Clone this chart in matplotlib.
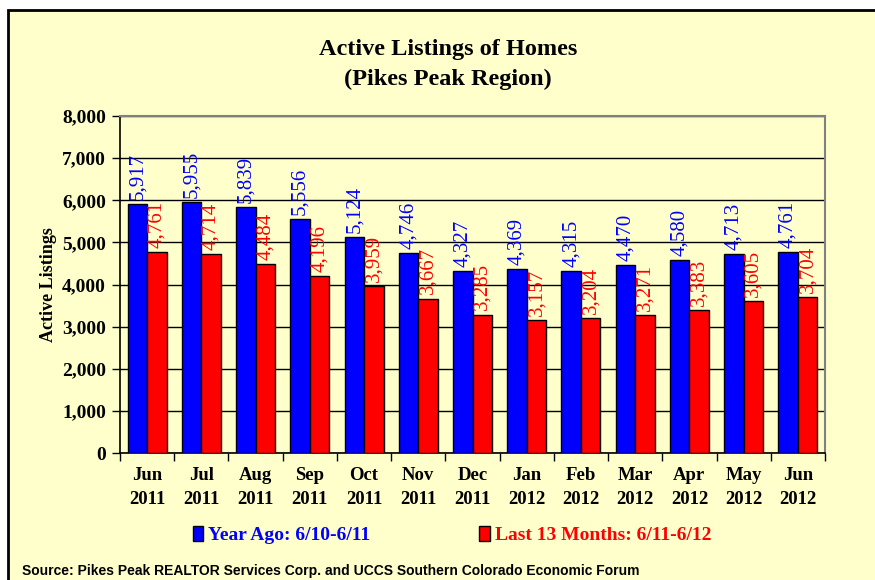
import matplotlib
matplotlib.use("Agg")
import matplotlib.pyplot as plt
import numpy as np
from matplotlib.patches import Rectangle
from matplotlib.ticker import FuncFormatter

months = ["Jun\n2011", "Jul\n2011", "Aug\n2011", "Sep\n2011", "Oct\n2011", "Nov\n2011",
          "Dec\n2011", "Jan\n2012", "Feb\n2012", "Mar\n2012", "Apr\n2012", "May\n2012", "Jun\n2012"]
year_ago = [5917, 5955, 5839, 5556, 5124, 4746, 4327, 4369, 4315, 4470, 4580, 4713, 4761]
last13 = [4761, 4714, 4484, 4196, 3959, 3667, 3285, 3157, 3204, 3271, 3383, 3605, 3704]
series_names = ["Year Ago: 6/10-6/11", "Last 13 Months: 6/11-6/12"]

serif = ["Liberation Serif", "DejaVu Serif"]
bg = "#FFFFCC"

fig = plt.figure(figsize=(8.75, 5.8), dpi=100)
fig.patch.set_facecolor("white")
# outer panel with black border
panel = Rectangle((8 / 875, -0.01), 1.0, 1 - 10 / 580 + 0.01, transform=fig.transFigure,
                  facecolor=bg, edgecolor="black", linewidth=2, zorder=-10)
fig.patches.append(panel)

ax = fig.add_axes([120 / 875, 1 - 453 / 580, (825 - 120) / 875, (453 - 116) / 580])
ax.set_facecolor(bg)

x = np.arange(len(months))
w = 0.36
b1 = ax.bar(x - w / 2, year_ago, w, color="#0000FF", edgecolor="black", linewidth=1, zorder=3,
            label=series_names[0])
b2 = ax.bar(x + w / 2, last13, w, color="#FF0000", edgecolor="black", linewidth=1, zorder=3,
            label=series_names[1])

for rect, v in zip(b1, year_ago):
    ax.annotate(f"{v:,}", (rect.get_x() + rect.get_width() / 2, v), xytext=(0, 3),
                textcoords="offset points", rotation=90, ha="center", va="bottom",
                color="#0000FF", fontsize=15, family=serif, zorder=4)
for rect, v in zip(b2, last13):
    ax.annotate(f"{v:,}", (rect.get_x() + rect.get_width() / 2, v), xytext=(0, 3),
                textcoords="offset points", rotation=90, ha="center", va="bottom",
                color="#FF0000", fontsize=15, family=serif, zorder=4)

ax.set_xlim(-0.5, len(months) - 0.5)
ax.set_ylim(0, 8000)
ax.set_yticks(np.arange(0, 8001, 1000))
ax.yaxis.set_major_formatter(FuncFormatter(lambda v, p: f"{int(v):,}"))
ax.grid(axis="y", color="black", linewidth=1, zorder=0)
ax.set_axisbelow(True)

ax.set_xticks(x)
ax.set_xticklabels(months)
ax.set_xticks(np.arange(-0.5, len(months), 1), minor=True)
ax.tick_params(axis="x", which="major", length=0, pad=10)
ax.tick_params(axis="x", which="minor", length=6, width=1, direction="out")
ax.tick_params(axis="y", length=6, width=1, direction="out", pad=4)
for lab in ax.get_xticklabels():
    lab.set_family(serif); lab.set_weight("bold"); lab.set_fontsize(13.5)
    lab.set_linespacing(1.55)
for lab in ax.get_yticklabels():
    lab.set_family(serif); lab.set_weight("bold"); lab.set_fontsize(14)

for s in ["left", "bottom"]:
    ax.spines[s].set_color("black"); ax.spines[s].set_linewidth(1.2)
for s in ["top", "right"]:
    ax.spines[s].set_color("#808080"); ax.spines[s].set_linewidth(1.5)

ax.set_ylabel("Active Listings", family=serif, weight="bold", fontsize=13, labelpad=4)

fig.text(448 / 875, 1 - 50 / 580, "Active Listings of Homes", ha="center", va="center",
         family=serif, weight="bold", fontsize=17.5)
fig.text(448 / 875, 1 - 79 / 580, "(Pikes Peak Region)", ha="center", va="center",
         family=serif, weight="bold", fontsize=17.5)

leg = fig.legend(handles=[b1, b2], labels=series_names, ncol=2, loc="center",
                 bbox_to_anchor=(452 / 875, 1 - 535 / 580), frameon=False,
                 prop={"family": serif, "weight": "bold", "size": 14},
                 handlelength=0.55, handleheight=0.8, handletextpad=0.25, columnspacing=5.6)
for t, c in zip(leg.get_texts(), ["#0000FF", "#FF0000"]):
    t.set_color(c)

fig.text(22 / 875, 1 - 571 / 580, "Source: Pikes Peak REALTOR Services Corp. and UCCS Southern Colorado Economic Forum",
         ha="left", va="center", family=["Liberation Sans", "DejaVu Sans"], weight="bold", fontsize=10)

fig.savefig("out.png", dpi=100, facecolor="white")
